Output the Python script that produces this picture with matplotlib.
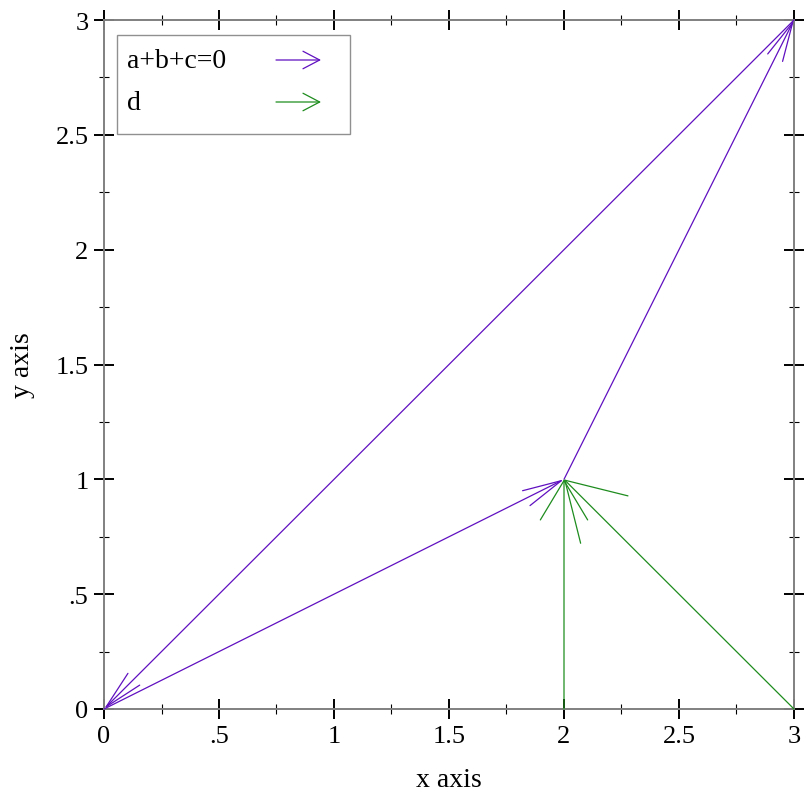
import numpy as np
import matplotlib
matplotlib.use("Agg")
import matplotlib.pyplot as plt
from matplotlib.patches import FancyArrowPatch, Rectangle
from matplotlib.ticker import FixedLocator

plt.rcParams['font.family'] = ['Liberation Serif', 'DejaVu Serif']

# data
abc_tail_x = [0, 2, 3]
abc_tail_y = [0, 1, 3]
abc_head_x = [2, 3, 0]
abc_head_y = [1, 3, 0]

d_tail_x = [2, 3]
d_tail_y = [0, 0]
d_head_x = [2, 2]
d_head_y = [1, 1]

major_ticks = [0, 0.5, 1, 1.5, 2, 2.5, 3]
minor_ticks = [0.25, 0.75, 1.25, 1.75, 2.25, 2.75]
tick_labels = ['0', '.5', '1', '1.5', '2', '2.5', '3']
legend_labels = ['a+b+c=0', 'd']

purple = '#6010c0'
green = '#1e8c1e'
FS = 19

W = H = 812
fig = plt.figure(figsize=(W / 100, H / 100), dpi=100)
ax = fig.add_axes([104 / W, (H - 710) / H, 690 / W, 689 / H])
ax.set_xlim(0, 3)
ax.set_ylim(0, 3)

for s in ax.spines.values():
    s.set_color('#808080')
    s.set_linewidth(1.4)

ax.xaxis.set_major_locator(FixedLocator(major_ticks))
ax.yaxis.set_major_locator(FixedLocator(major_ticks))
ax.xaxis.set_minor_locator(FixedLocator(minor_ticks))
ax.yaxis.set_minor_locator(FixedLocator(minor_ticks))
ax.set_xticklabels(tick_labels)
ax.set_yticklabels(tick_labels)
ax.tick_params(which='major', direction='inout', length=14.4, width=1.4,
               color='black', top=True, right=True, labelsize=FS, pad=4)
ax.tick_params(which='minor', direction='inout', length=7.2, width=0.8,
               color='black', top=True, right=True)

ax.set_xlabel('x axis', fontsize=FS + 1, labelpad=15)
ax.set_ylabel('y axis', fontsize=FS + 1, labelpad=15)

px2pt = 72 / 100

# purple arrows: fixed size heads
for x0, y0, x1, y1 in zip(abc_tail_x, abc_tail_y, abc_head_x, abc_head_y):
    hl = 40 * np.cos(np.radians(12)) * px2pt
    hw = 40 * np.sin(np.radians(12)) * px2pt
    ax.add_patch(FancyArrowPatch((x0, y0), (x1, y1),
                                 arrowstyle=f'->,head_length={hl},head_width={hw}',
                                 mutation_scale=1, color=purple, lw=0.9,
                                 shrinkA=0, shrinkB=0, clip_on=False, zorder=3))

# green arrows: heads scale with length
for x0, y0, x1, y1 in zip(d_tail_x, d_tail_y, d_head_x, d_head_y):
    p0 = ax.transData.transform((x0, y0))
    p1 = ax.transData.transform((x1, y1))
    L = 0.2 * np.hypot(*(p1 - p0))
    hl = L * np.cos(np.radians(31)) * px2pt
    hw = L * np.sin(np.radians(31)) * px2pt
    ax.add_patch(FancyArrowPatch((x0, y0), (x1, y1),
                                 arrowstyle=f'->,head_length={hl},head_width={hw}',
                                 mutation_scale=1, color=green, lw=0.9,
                                 shrinkA=0, shrinkB=0, clip_on=False, zorder=3))

# legend (drawn in figure pixel coords)
def fp(x, y):
    return (x / W, 1 - y / H)

fig.patches.append(Rectangle(fp(117, 135), 233 / W, 99 / H, transform=fig.transFigure,
                             facecolor='white', edgecolor='#909090', lw=1.0, zorder=5))
for lab, col, yy in zip(legend_labels, [purple, green], [61, 103]):
    fig.text(*fp(127, yy), lab, fontsize=FS + 1, va='center', ha='left', zorder=6)
    fig.patches.append(FancyArrowPatch(fp(276, yy), fp(321, yy), transform=fig.transFigure,
                                       arrowstyle='->,head_length=12,head_width=6.3',
                                       mutation_scale=1, color=col, lw=0.9,
                                       shrinkA=0, shrinkB=0, zorder=6))

fig.savefig('out.png', dpi=100)
